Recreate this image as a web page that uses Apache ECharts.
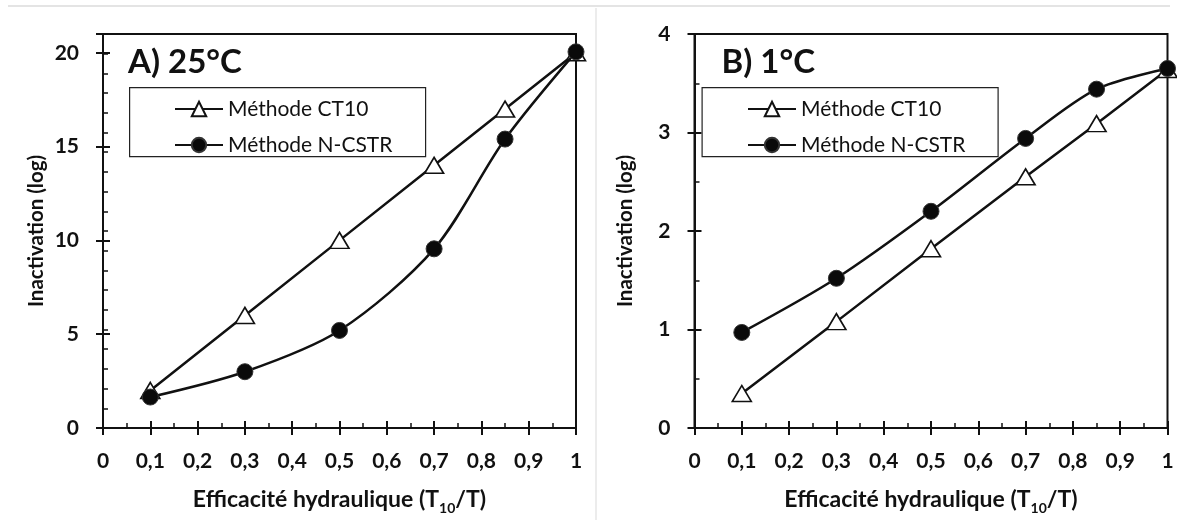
<!DOCTYPE html>
<html>
<head>
<meta charset="utf-8">
<script src="https://cdn.jsdelivr.net/npm/echarts@6/dist/echarts.min.js"></script>
<style>
  html, body { margin: 0; padding: 0; background: #fff; }
  #main { width: 1177px; height: 529px; }
</style>
</head>
<body>
<div id="main"></div>
<script>
// hydraulic efficiency T10/T, shared by both panels
const ratioT10 = [0.1, 0.3, 0.5, 0.7, 0.85, 1];
// A) 25°C
const ct10At25 = [2.0, 6.0, 10.0, 14.0, 17.0, 20.0];
const ncstrAt25 = [1.65, 3.0, 5.2, 9.55, 15.4, 20.05];
// B) 1°C
const ct10At1 = [0.35, 1.08, 1.82, 2.55, 3.09, 3.64];
const ncstrAt1 = [0.97, 1.52, 2.2, 2.94, 3.44, 3.65];

const seriesNames = ['Méthode CT10', 'Méthode N-CSTR'];
const panelTitles = ['A) 25°C', 'B) 1°C'];
const xTitle = '{a|Efficacité hydraulique (T}{s|10}{a|/T)}';
const yTitle = 'Inactivation (log)';

const FONT = 'Lato, "Open Sans", sans-serif';
const INK = '#111';

const pairs = (xs, ys) => xs.map((x, i) => [x, ys[i]]);

var myChart = echarts.init(document.getElementById('main'));

const grids = [
    { left: 103, top: 34, width: 473, height: 394 },
    { left: 694.5, top: 34, width: 473, height: 394 }
];

const commaLabel = (v) => String(+(+v).toFixed(1)).replace('.', ',');

// main x axis (ticks inside + minor ticks), overlay axis for the outer half of the major ticks
const xAxes = [];
const yAxes = [];
[0, 1].forEach((g) => {
    xAxes.push({
        type: 'value', gridIndex: g, position: 'bottom', min: 0, max: 1, interval: 0.1,
        axisLine: { onZero: false, lineStyle: { color: INK, width: 2 } },
        axisTick: { inside: true, length: 7, lineStyle: { color: INK, width: 2 } },
        minorTick: { show: true, splitNumber: 2, length: 5, lineStyle: { color: INK, width: 1.5 } },
        splitLine: { show: false },
        axisLabel: {
            margin: 23, color: INK, fontFamily: FONT, fontWeight: 'bold', fontSize: 21,
            formatter: commaLabel
        },
        name: xTitle, nameLocation: 'middle', nameGap: 57,
        nameTextStyle: {
            rich: {
                a: { fontFamily: FONT, fontWeight: 'bold', fontSize: 23, color: INK, lineHeight: 30 },
                s: { fontFamily: FONT, fontWeight: 'bold', fontSize: 14, color: INK, lineHeight: 16, verticalAlign: 'bottom' }
            }
        }
    });
    xAxes.push({
        type: 'value', gridIndex: g, position: 'bottom', offset: 0, min: 0, max: 1, interval: 0.1,
        axisLine: { show: false },
        axisTick: { inside: false, length: 7, lineStyle: { color: INK, width: 2 } },
        axisLabel: { show: false },
        splitLine: { show: false }
    });
});

// left panel y: 0..21, labels every 5, minor ticks every 1
const yLeftMax = 21;
yAxes.push({
    type: 'value', gridIndex: 0, position: 'left', min: 0, max: yLeftMax, interval: 5,
    axisLine: { show: true, lineStyle: { color: INK, width: 2 } },
    axisTick: { inside: true, length: 7, lineStyle: { color: INK, width: 2 } },
    splitLine: { show: false },
    axisLabel: { margin: 24, color: INK, fontFamily: FONT, fontWeight: 'bold', fontSize: 21, showMaxLabel: false },
    name: yTitle, nameLocation: 'middle', nameGap: 56,
    nameTextStyle: { fontFamily: FONT, fontWeight: 'bold', fontSize: 20.5, color: INK }
});
yAxes.push({
    type: 'value', gridIndex: 0, position: 'left', offset: 0, min: 0, max: yLeftMax, interval: 5,
    axisLine: { show: false },
    axisTick: { inside: false, length: 7, lineStyle: { color: INK, width: 2 } },
    axisLabel: { show: false }, splitLine: { show: false }
});
yAxes.push({
    type: 'value', gridIndex: 0, position: 'left', offset: 0, min: 0, max: yLeftMax - 1, interval: 1,
    axisLine: { show: false },
    axisTick: { inside: true, length: 5, lineStyle: { color: INK, width: 1.5 } },
    axisLabel: { show: false }, splitLine: { show: false }
});
// right panel y: 0..4, minor ticks every 0.5
yAxes.push({
    type: 'value', gridIndex: 1, position: 'left', min: 0, max: 4, interval: 1,
    axisLine: { show: true, lineStyle: { color: INK, width: 2 } },
    axisTick: { inside: true, length: 7, lineStyle: { color: INK, width: 2 } },
    minorTick: { show: true, splitNumber: 2, length: 5, lineStyle: { color: INK, width: 1.5 } },
    splitLine: { show: false },
    axisLabel: { margin: 24, color: INK, fontFamily: FONT, fontWeight: 'bold', fontSize: 21 },
    name: yTitle, nameLocation: 'middle', nameGap: 59,
    nameTextStyle: { fontFamily: FONT, fontWeight: 'bold', fontSize: 20.5, color: INK }
});
yAxes.push({
    type: 'value', gridIndex: 1, position: 'left', offset: 0, min: 0, max: 4, interval: 1,
    axisLine: { show: false },
    axisTick: { inside: false, length: 7, lineStyle: { color: INK, width: 2 } },
    axisLabel: { show: false }, splitLine: { show: false }
});

const ct10Style = (xi, yi, ys) => ({
    name: seriesNames[0], type: 'line', xAxisIndex: xi, yAxisIndex: yi,
    data: pairs(ratioT10, ys),
    symbol: 'triangle', symbolSize: [19, 16],
    itemStyle: { color: '#fff', borderColor: INK, borderWidth: 1.6 },
    lineStyle: { color: INK, width: 2.5 },
    z: 3, animation: false
});
const ncstrStyle = (xi, yi, ys) => ({
    name: seriesNames[1], type: 'line', xAxisIndex: xi, yAxisIndex: yi,
    data: pairs(ratioT10, ys),
    smooth: 0.3,
    symbol: 'circle', symbolSize: 16,
    itemStyle: { color: '#0a0a0a', borderColor: '#333', borderWidth: 1 },
    lineStyle: { color: INK, width: 2.5 },
    z: 4, animation: false
});

const legendBox = (x) => ({
    type: 'rect', left: x, top: 87, z: 1,
    shape: { width: 296, height: 69 },
    style: { fill: '#fff', stroke: '#222', lineWidth: 1.2 }
});
const panelTitle = (x, text) => ({
    type: 'text', left: x, top: 46, z: 5,
    style: { text: text, fontFamily: FONT, fontWeight: 'bold', fontSize: 33, fill: INK }
});
const legendAt = (x) => ({
    orient: 'vertical', left: x, top: 93, itemWidth: 48, itemHeight: 18, itemGap: 14,
    data: seriesNames, selectedMode: false, z: 6,
    textStyle: { fontFamily: FONT, fontSize: 21, lineHeight: 22, color: INK }
});

myChart.setOption({
    backgroundColor: '#fff',
    animation: false,
    grid: grids.map((g) => Object.assign({ show: true, borderColor: INK, borderWidth: 2, backgroundColor: 'transparent', containLabel: false }, g)),
    xAxis: xAxes,
    yAxis: yAxes,
    legend: [legendAt(169), legendAt(742)],
    graphic: [
        // faint frame lines of the original figure
        { type: 'line', shape: { x1: 8, y1: 6, x2: 1170, y2: 6 }, style: { stroke: '#e4e4e4', lineWidth: 2 }, z: 0 },
        { type: 'line', shape: { x1: 596, y1: 8, x2: 596, y2: 520 }, style: { stroke: '#ececec', lineWidth: 2 }, z: 0 },
        legendBox(129),
        legendBox(701.5),
        panelTitle(128, panelTitles[0]),
        panelTitle(721.5, panelTitles[1])
    ],
    series: [
        ct10Style(0, 0, ct10At25),
        ncstrStyle(0, 0, ncstrAt25),
        ct10Style(2, 3, ct10At1),
        ncstrStyle(2, 3, ncstrAt1)
    ]
});
</script>
</body>
</html>
